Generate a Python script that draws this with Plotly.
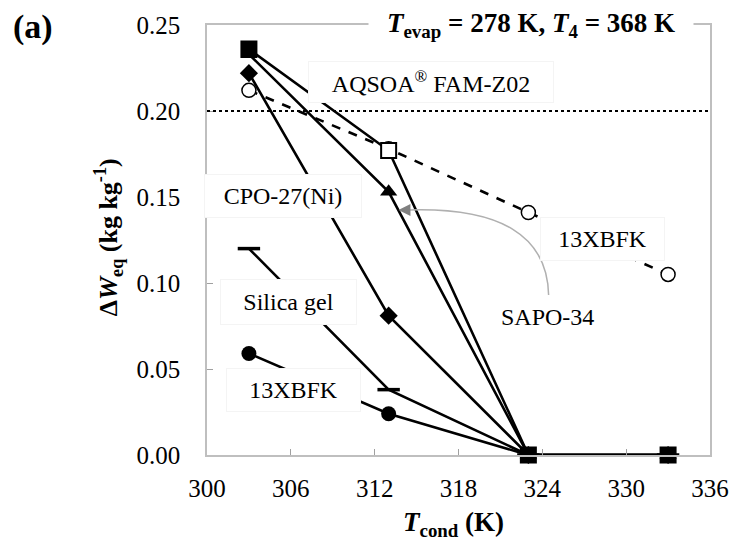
import plotly.graph_objects as go

# ---- data ----
t_cond = [303, 313, 323, 333]
aqsoa = [0.236, 0.177, 0.0, 0.0]
sapo34 = [0.233, 0.153, 0.0, 0.0]
cpo27 = [0.222, 0.081, 0.0, 0.0]
silica = [0.120, 0.038, 0.0, 0.0]
x13bfk = [0.059, 0.024, 0.0, 0.0]
x13bfk_open = [0.212, 0.178, 0.141, 0.105]

x_ticks = [300, 306, 312, 318, 324, 330, 336]
y_ticks = [0.00, 0.05, 0.10, 0.15, 0.20, 0.25]

FONT = "'Liberation Serif', 'Times New Roman', 'DejaVu Serif', serif"
LW = 2.6

fig = go.Figure()

fig.add_trace(go.Scatter(x=t_cond, y=x13bfk_open, mode="lines+markers",
                         line=dict(color="black", width=LW, dash="dash"),
                         marker=dict(symbol="circle", size=14, color="white",
                                     line=dict(color="black", width=1.5)),
                         cliponaxis=False, showlegend=False))
fig.add_trace(go.Scatter(x=t_cond, y=x13bfk, mode="lines+markers",
                         line=dict(color="black", width=LW),
                         marker=dict(symbol="circle", size=15, color="black"),
                         cliponaxis=False, showlegend=False))
fig.add_trace(go.Scatter(x=t_cond, y=silica, mode="lines+markers",
                         line=dict(color="black", width=LW),
                         marker=dict(symbol="line-ew", size=16,
                                     line=dict(color="black", width=3.5)),
                         cliponaxis=False, showlegend=False))
fig.add_trace(go.Scatter(x=t_cond, y=cpo27, mode="lines+markers",
                         line=dict(color="black", width=LW),
                         marker=dict(symbol="diamond", size=14, color="black"),
                         cliponaxis=False, showlegend=False))
fig.add_trace(go.Scatter(x=t_cond, y=sapo34, mode="lines+markers",
                         line=dict(color="black", width=LW),
                         marker=dict(symbol="triangle-up", size=15, color="black"),
                         cliponaxis=False, showlegend=False))
fig.add_trace(go.Scatter(x=t_cond, y=aqsoa, mode="lines+markers",
                         line=dict(color="black", width=LW),
                         marker=dict(symbol="square", size=15,
                                     color=["black", "white", "black", "black"],
                                     line=dict(color="black", width=2)),
                         cliponaxis=False, showlegend=False))

# dotted reference line
fig.add_shape(type="line", xref="paper", yref="y", x0=0, x1=1, y0=0.20, y1=0.20,
              line=dict(color="black", width=2, dash="dot"))

# curved grey pointer from SAPO-34 label
fig.add_shape(type="path", xref="x", yref="y",
              path="M 324.45,0.093 Q 324.3,0.145 314.4,0.1425",
              line=dict(color="#b0b0b0", width=1.5))
fig.add_annotation(x=313.7, y=0.1425, ax=314.6, ay=0.1425, xref="x", yref="y",
                   axref="x", ayref="y", text="", showarrow=True,
                   arrowhead=2, arrowsize=1.2, arrowwidth=2, arrowcolor="#808080")

def label(text, x, y, w, h, size=24):
    fig.add_annotation(x=x, y=y, xref="x", yref="y", text=text, showarrow=False,
                       font=dict(family=FONT, size=size, color="black"),
                       bgcolor="white", bordercolor="#f4f4f4", borderwidth=1,
                       borderpad=0, width=w, height=h, xanchor="center", yanchor="middle")

label("AQSOA<sup>®</sup> FAM-Z02", 316.0, 0.2167, 244, 40)
label("CPO-27(Ni)", 305.47, 0.1506, 156, 42)
label("Silica gel", 305.82, 0.0891, 135, 44)
label("13XBFK", 306.18, 0.0379, 133, 42)
label("13XBFK", 328.28, 0.1253, 123, 42)
fig.add_annotation(x=324.35, y=0.0805, xref="x", yref="y", text="SAPO-34", showarrow=False,
                   font=dict(family=FONT, size=24, color="black"))

# title box
fig.add_annotation(x=0.644, y=1.0, xref="paper", yref="paper",
                   text="<b><i>T</i><sub>evap</sub> = 278 K, <i>T</i><sub>4</sub> = 368 K</b>",
                   showarrow=False, font=dict(family=FONT, size=27, color="black"),
                   bgcolor="white", borderpad=0, width=324, height=42,
                   xanchor="center", yanchor="middle")

# panel label
fig.add_annotation(x=-0.39, y=0.995, xref="paper", yref="paper", text="<b>(a)</b>",
                   showarrow=False, font=dict(family=FONT, size=34, color="black"),
                   xanchor="left", yanchor="middle")

# axis titles
fig.add_annotation(x=-0.195, y=0.506, xref="paper", yref="paper",
                   text="<b>Δ<i>W</i><sub>eq</sub> (kg kg<sup>-1</sup>)</b>",
                   textangle=-90, showarrow=False,
                   font=dict(family=FONT, size=26, color="black"),
                   xanchor="center", yanchor="middle")
fig.add_annotation(x=0.491, y=-0.161, xref="paper", yref="paper",
                   text="<b><i>T</i><sub>cond</sub> (K)</b>", showarrow=False,
                   font=dict(family=FONT, size=27, color="black"),
                   xanchor="center", yanchor="middle")

fig.update_xaxes(range=[300, 336], tickvals=x_ticks, ticks="inside", ticklen=6,
                 tickcolor="#a0a0a0", showline=True, linecolor="#bfbfbf", linewidth=1.5,
                 mirror=True, showgrid=False, zeroline=False,
                 tickfont=dict(family=FONT, size=25, color="black"),
                 ticklabelstandoff=10)
fig.update_yaxes(range=[0, 0.25], tickvals=y_ticks, tickformat=".2f", ticks="inside",
                 ticklen=6, tickcolor="#a0a0a0", showline=True, linecolor="#bfbfbf",
                 linewidth=1.5, mirror=True, showgrid=False, zeroline=False,
                 tickfont=dict(family=FONT, size=25, color="black"),
                 ticklabelstandoff=20)

fig.update_layout(width=741, height=547, margin=dict(l=207, r=21, t=20, b=92),
                  plot_bgcolor="white", paper_bgcolor="white", showlegend=False,
                  font=dict(family=FONT))

fig.write_html("out.html")
